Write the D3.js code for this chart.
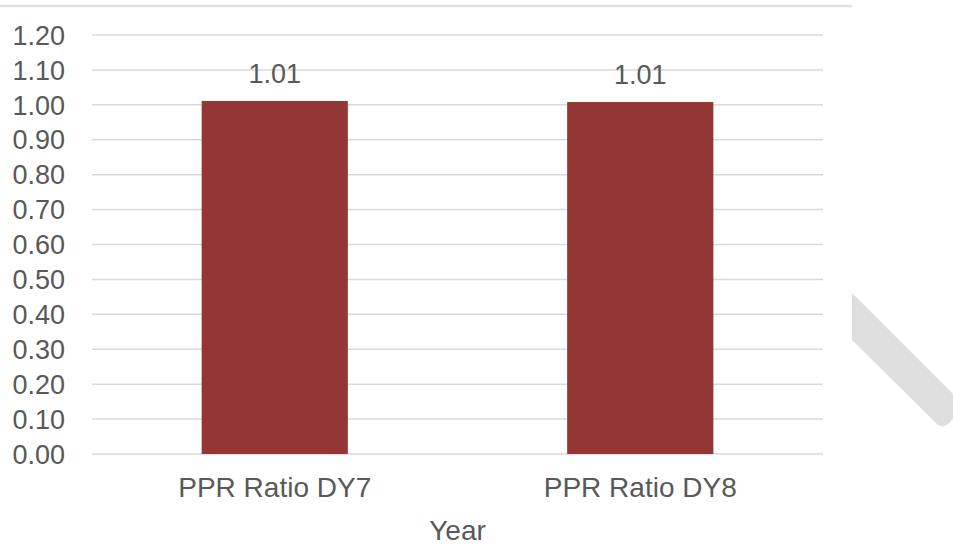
<!DOCTYPE html>
<html>
<head>
<meta charset="utf-8">
<script src="https://cdn.jsdelivr.net/npm/d3@7"></script>
<style>
    body { margin: 0; background: #fff; }
    text { font-family: Arial, "Liberation Sans", sans-serif; fill: #595959; }
</style>
</head>
<body>
<div id="chart"></div>
<script>
/*
    Chart data
*/
var categories = ["PPR Ratio DY7", "PPR Ratio DY8"];
var values = [1.011, 1.008];
var valueLabels = ["1.01", "1.01"];
var yTicks = [0, 0.1, 0.2, 0.3, 0.4, 0.5, 0.6, 0.7, 0.8, 0.9, 1.0, 1.1, 1.2];
var xTitle = "Year";

var width = 953;
var height = 546;

var plot = { left: 92, right: 823, top: 35, bottom: 454 };

var svg = d3.select("#chart")
    .append("svg")
    .attr("width", width)
    .attr("height", height);

var x = d3.scaleBand()
    .domain(categories)
    .range([plot.left, plot.right])
    .paddingInner(0.6)
    .paddingOuter(0.3);

var y = d3.scaleLinear()
    .domain([0, 1.2])
    .range([plot.bottom, plot.top]);

// thin grey rule along the top of the picture
svg.append("line")
    .attr("x1", 0).attr("x2", 852)
    .attr("y1", 6).attr("y2", 6)
    .attr("stroke", "#e0e0e0")
    .attr("stroke-width", 2.5);

// gridlines
svg.append("g")
    .selectAll("line")
    .data(yTicks)
    .enter().append("line")
    .attr("x1", plot.left)
    .attr("x2", plot.right)
    .attr("y1", function (d) { return y(d); })
    .attr("y2", function (d) { return y(d); })
    .attr("stroke", "#d9d9d9")
    .attr("stroke-width", 1.5);

// y tick labels
svg.append("g")
    .selectAll("text")
    .data(yTicks)
    .enter().append("text")
    .attr("x", 65)
    .attr("y", function (d) { return y(d); })
    .attr("dy", "0.36em")
    .attr("text-anchor", "end")
    .style("font-size", "27px")
    .text(function (d) { return d3.format(".2f")(d); });

// bars
svg.append("g")
    .selectAll("rect")
    .data(values)
    .enter().append("rect")
    .attr("x", function (d, i) { return x(categories[i]); })
    .attr("width", x.bandwidth())
    .attr("y", function (d) { return y(d); })
    .attr("height", function (d) { return y(0) - y(d); })
    .attr("fill", "#943634");

// value labels
svg.append("g")
    .selectAll("text")
    .data(values)
    .enter().append("text")
    .attr("x", function (d, i) { return x(categories[i]) + x.bandwidth() / 2; })
    .attr("y", function (d) { return y(d) - 18; })
    .attr("text-anchor", "middle")
    .style("font-size", "27px")
    .text(function (d, i) { return valueLabels[i]; });

// category labels
svg.append("g")
    .selectAll("text")
    .data(categories)
    .enter().append("text")
    .attr("x", function (d) { return x(d) + x.bandwidth() / 2; })
    .attr("y", 497)
    .attr("text-anchor", "middle")
    .style("font-size", "28px")
    .text(function (d) { return d; });

// axis title
svg.append("text")
    .attr("x", (plot.left + plot.right) / 2)
    .attr("y", 540)
    .attr("text-anchor", "middle")
    .style("font-size", "28px")
    .text(xTitle);

// grey diagonal stroke at the bottom right
var diag = d3.path();
diag.moveTo(852, 293);
diag.lineTo(956, 397);
diag.lineTo(956, 413);
diag.quadraticCurveTo(948, 430, 938, 425);
diag.lineTo(852, 340);
diag.closePath();
svg.append("path")
    .attr("d", diag.toString())
    .attr("fill", "#dedede");
</script>
</body>
</html>
